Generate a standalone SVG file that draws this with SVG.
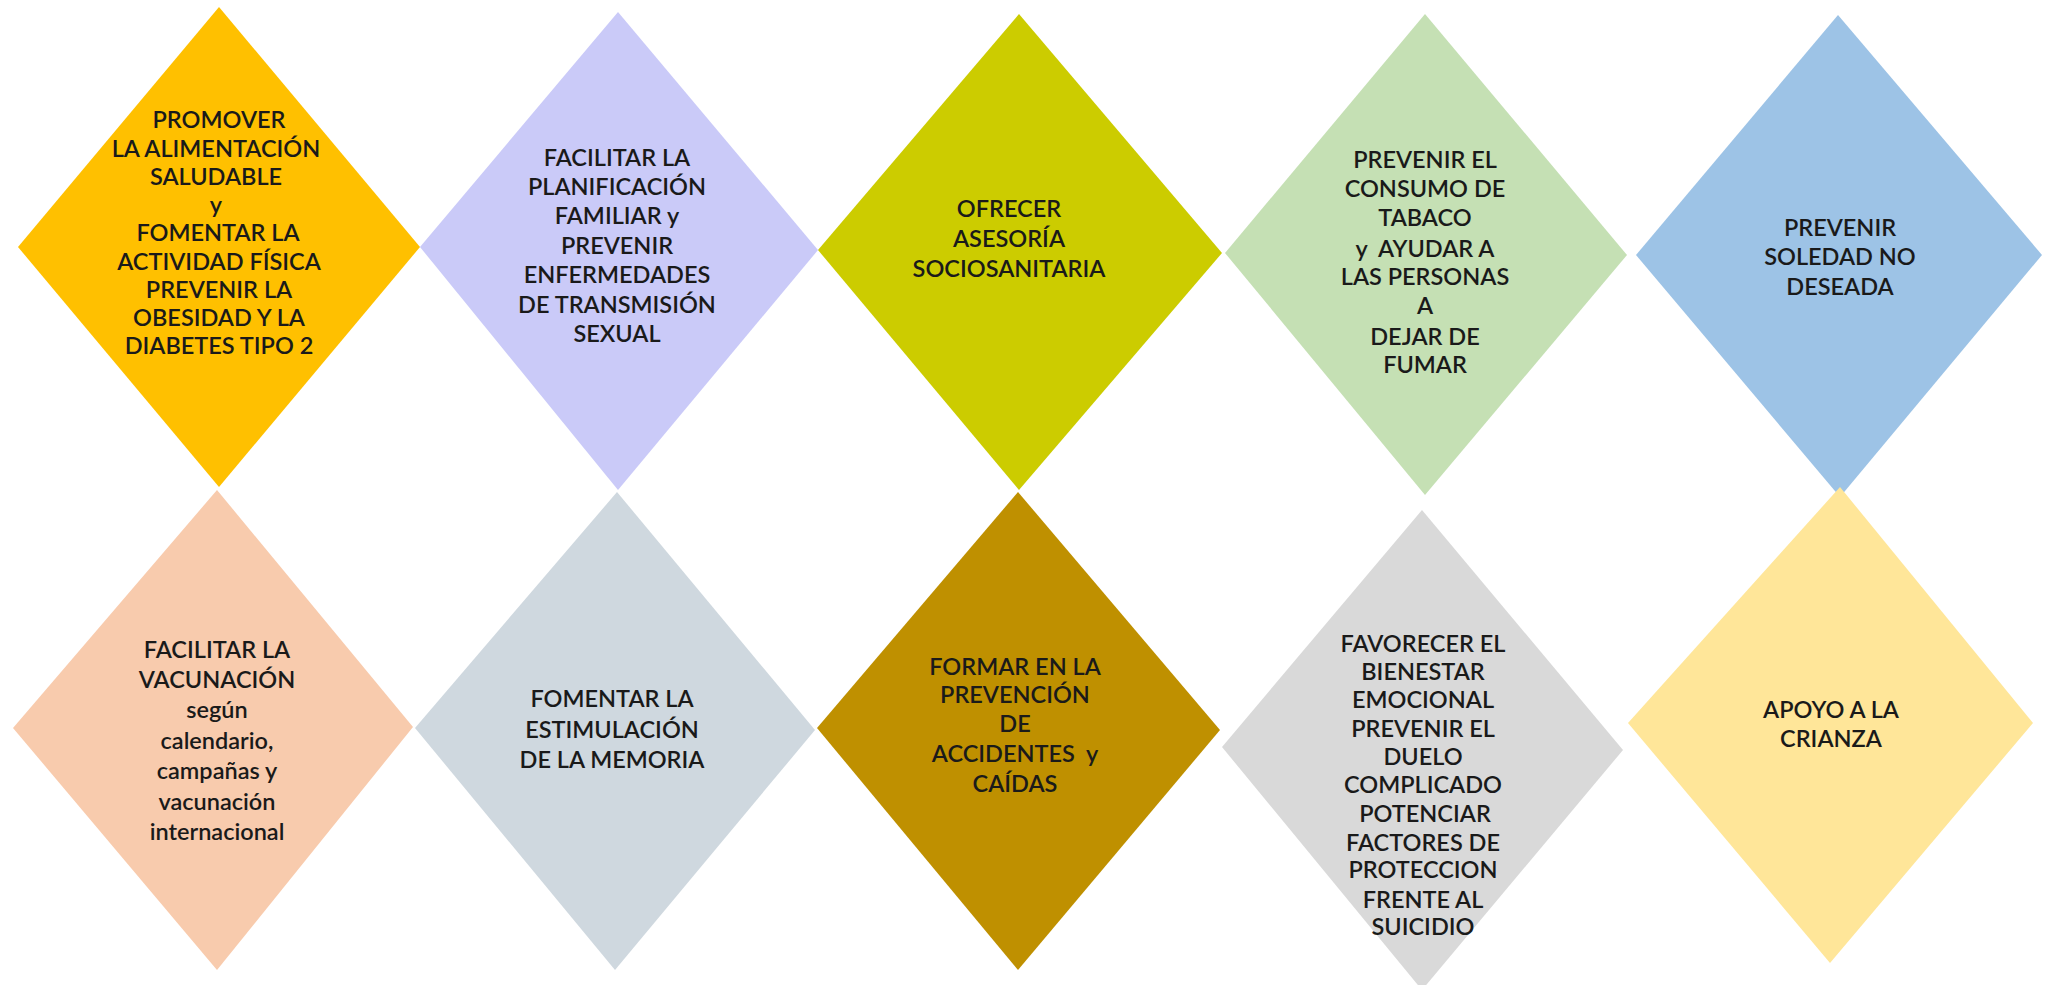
<svg xmlns="http://www.w3.org/2000/svg" width="2047" height="985" viewBox="0 0 2047 985">
<style>
text{font-family:Lato,"Open Sans","Liberation Sans",sans-serif;font-size:23.5px;font-weight:600;fill:#1a1a1a;text-anchor:middle}
.s24{font-size:24px}
.s245{font-size:24.6px}
.s25{font-size:25.5px}
</style>
<rect width="2047" height="985" fill="#ffffff"/>
<g id="n1">
<polygon points="219,7 420,247 219,487 18,247" fill="#FFC000"/>
<text x="219" y="128">PROMOVER</text>
<text x="216" y="156.5">LA ALIMENTACIÓN</text>
<text x="216" y="185">SALUDABLE</text>
<text x="216" y="213">y</text>
<text x="218" y="241">FOMENTAR LA</text>
<text x="219" y="269.5">ACTIVIDAD FÍSICA</text>
<text x="219" y="297.5">PREVENIR LA</text>
<text x="219" y="326">OBESIDAD Y LA</text>
<text x="219" y="354">DIABETES TIPO 2</text>
</g>
<g id="n2" class="s245">
<polygon points="618,12 818,250 618,490 420,247" fill="#CACAF8"/>
<text x="617" y="166">FACILITAR LA</text>
<text x="617" y="195">PLANIFICACIÓN</text>
<text x="617" y="224">FAMILIAR y</text>
<text x="617" y="254">PREVENIR</text>
<text x="617" y="283">ENFERMEDADES</text>
<text x="617" y="313">DE TRANSMISIÓN</text>
<text x="617" y="342">SEXUAL</text>
</g>
<g id="n3">
<polygon points="1019,14 1222,253 1019,490 818,250" fill="#CCCC00"/>
<text x="1009" y="217">OFRECER</text>
<text x="1009" y="247">ASESORÍA</text>
<text x="1009" y="277">SOCIOSANITARIA</text>
</g>
<g id="n4" class="s24">
<polygon points="1425,14 1627,255 1425,495 1225,253" fill="#C5E0B4"/>
<text x="1425" y="168">PREVENIR EL</text>
<text x="1425" y="197">CONSUMO DE</text>
<text x="1425" y="226">TABACO</text>
<text x="1425" y="257" xml:space="preserve">y  AYUDAR A</text>
<text x="1425" y="285">LAS PERSONAS</text>
<text x="1425" y="314">A</text>
<text x="1425" y="345">DEJAR DE</text>
<text x="1425" y="373">FUMAR</text>
</g>
<g id="n5" class="s25">
<polygon points="1838,15 2042,255 1840,497 1636,255" fill="#9DC3E6"/>
<text x="1840" y="236">PREVENIR</text>
<text x="1840" y="265">SOLEDAD NO</text>
<text x="1840" y="295">DESEADA</text>
</g>
<g id="n6" class="s245">
<polygon points="217,490 413,727 217,970 13,728" fill="#F8CBAD"/>
<text x="217" y="658">FACILITAR LA</text>
<text x="217" y="688">VACUNACIÓN</text>
<text x="217" y="718">según</text>
<text x="217" y="749">calendario,</text>
<text x="217" y="779">campañas y</text>
<text x="217" y="810">vacunación</text>
<text x="217" y="840">internacional</text>
</g>
<g id="n7" class="s245">
<polygon points="617,492 815,730 615,970 415,728" fill="#CFD8DF"/>
<text x="612" y="707">FOMENTAR LA</text>
<text x="612" y="738">ESTIMULACIÓN</text>
<text x="612" y="768">DE LA MEMORIA</text>
</g>
<g id="n8" class="s24">
<polygon points="1018,492 1220,730 1018,970 817,728" fill="#BF9000"/>
<text x="1015" y="675">FORMAR EN LA</text>
<text x="1015" y="703">PREVENCIÓN</text>
<text x="1015" y="732">DE</text>
<text x="1015" y="762" xml:space="preserve">ACCIDENTES  y</text>
<text x="1015" y="792">CAÍDAS</text>
</g>
<g id="n9" class="s24">
<polygon points="1422,510 1623,750 1422,990 1222,747" fill="#D9D9D9"/>
<text x="1423" y="652">FAVORECER EL</text>
<text x="1423" y="680">BIENESTAR</text>
<text x="1423" y="708">EMOCIONAL</text>
<text x="1423" y="737">PREVENIR EL</text>
<text x="1423" y="765">DUELO</text>
<text x="1423" y="793">COMPLICADO</text>
<text x="1425" y="822">POTENCIAR</text>
<text x="1423" y="851">FACTORES DE</text>
<text x="1423" y="878">PROTECCION</text>
<text x="1423" y="908">FRENTE AL</text>
<text x="1423" y="935">SUICIDIO</text>
</g>
<g id="n10">
<polygon points="1840,487 2033,723 1830,963 1628,723" fill="#FFE699"/>
<text x="1831" y="718">APOYO A LA</text>
<text x="1831" y="747">CRIANZA</text>
</g>
<g id="connectors"></g>
</svg>
